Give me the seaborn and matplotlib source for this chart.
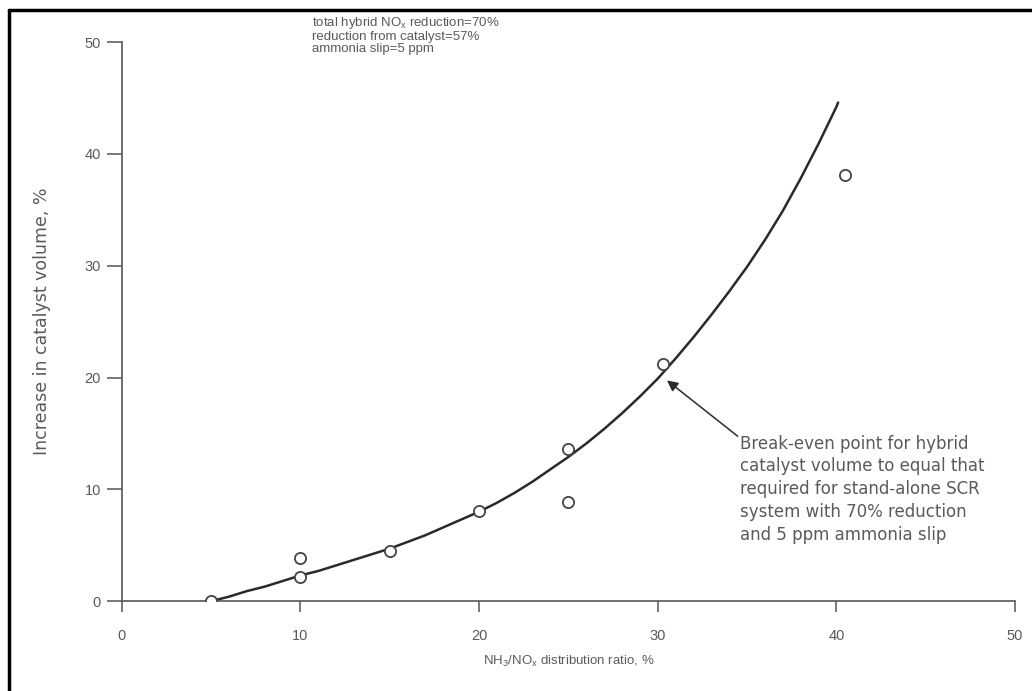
import numpy as np
import pandas as pd
import matplotlib.pyplot as plt
import seaborn as sns

# measured points (open circles)
pt_x = [5, 10, 10, 15, 20, 25, 25, 30.3, 40.5]
pt_y = [0, 3.9, 2.2, 4.5, 8.1, 13.6, 8.9, 21.2, 38.1]

# fitted curve
curve_x = [5, 6, 7, 8, 9, 10, 11, 12, 13, 14, 15, 16, 17, 18, 19, 20, 21, 22, 23,
           24, 25, 26, 27, 28, 29, 30, 31, 32, 33, 34, 35, 36, 37, 38, 39, 40, 40.1]
curve_y = [0, 0.4, 0.9, 1.3, 1.8, 2.3, 2.7, 3.2, 3.7, 4.2, 4.7, 5.3, 5.9, 6.6, 7.3,
           8.0, 8.8, 9.7, 10.7, 11.8, 12.9, 14.1, 15.4, 16.8, 18.3, 19.9, 21.7, 23.6,
           25.6, 27.7, 29.9, 32.3, 34.9, 37.8, 40.9, 44.2, 44.6]

x_ticks = [0, 10, 20, 30, 40, 50]
y_ticks = [0, 10, 20, 30, 40, 50]
y_ticklabels = ["0", "10", "20", "30", "40", "50"]

notes = "total hybrid NO$_\\mathregular{x}$ reduction=70%\nreduction from catalyst=57%\nammonia slip=5 ppm"
break_even = ("Break-even point for hybrid\ncatalyst volume to equal that\n"
              "required for stand-alone SCR\nsystem with 70% reduction\nand 5 ppm ammonia slip")

sns.set_style("ticks")
plt.rcParams['font.family'] = ['Liberation Sans', 'DejaVu Sans']
plt.rcParams['mathtext.fontset'] = 'custom'
plt.rcParams['mathtext.rm'] = 'Liberation Sans'

txt = "#5a5a5a"
ink = "#2a2a2a"

fig = plt.figure(figsize=(10.32, 6.91), dpi=100)
ax = fig.add_axes([0.118, 0.130, 0.8655, 0.809])

df_curve = pd.DataFrame({"x": curve_x, "y": curve_y})
df_pts = pd.DataFrame({"x": pt_x, "y": pt_y})

sns.lineplot(data=df_curve, x="x", y="y", ax=ax, color=ink, linewidth=1.8,
             sort=True, estimator=None)
sns.scatterplot(data=df_pts, x="x", y="y", ax=ax, s=65, marker="o",
                facecolor="white", edgecolor="#444444", linewidth=1.3, zorder=5)

ax.set_xlim(0, 50)
ax.set_ylim(0, 50)
ax.set_xticks(x_ticks)
ax.set_yticks(y_ticks)
ax.set_yticklabels(y_ticklabels)
ax.spines['top'].set_visible(False)
ax.spines['right'].set_visible(False)
for s in ['left', 'bottom']:
    ax.spines[s].set_color("#555555")
    ax.spines[s].set_linewidth(1.2)
ax.tick_params(axis='y', direction='out', length=11, width=1.1, pad=4,
               colors="#555555", labelcolor=txt, labelsize=10.5)
ax.tick_params(axis='x', direction='out', length=8, width=1.1, pad=12,
               colors="#555555", labelcolor=txt, labelsize=10.5)

ax.set_xlabel("NH$_\\mathregular{3}$/NO$_\\mathregular{x}$ distribution ratio, %",
              color=txt, fontsize=9.5, labelpad=8)
ax.set_ylabel("Increase in catalyst volume, %", color=txt, fontsize=12.5,
              labelpad=24, family=['DejaVu Sans'])

fig.text(0.302, 0.979, notes, ha='left', va='top', color=txt, fontsize=9.5,
         linespacing=1.05)

ax.annotate("", xy=(30.4, 19.9), xytext=(34.6, 14.6),
            arrowprops=dict(arrowstyle="-|>", color=ink, lw=1.1,
                            mutation_scale=16))
ax.text(34.6, 14.9, break_even, ha='left', va='top', color=txt, fontsize=12,
        linespacing=1.35, family=['DejaVu Sans'])

# scanned page border on top and left
fig.add_artist(plt.Line2D([0.009, 1.0], [0.985, 0.985], transform=fig.transFigure,
                          color="black", lw=2.5))
fig.add_artist(plt.Line2D([0.009, 0.009], [0.0, 0.985], transform=fig.transFigure,
                          color="black", lw=2.5))

fig.savefig("out.png", dpi=100)
